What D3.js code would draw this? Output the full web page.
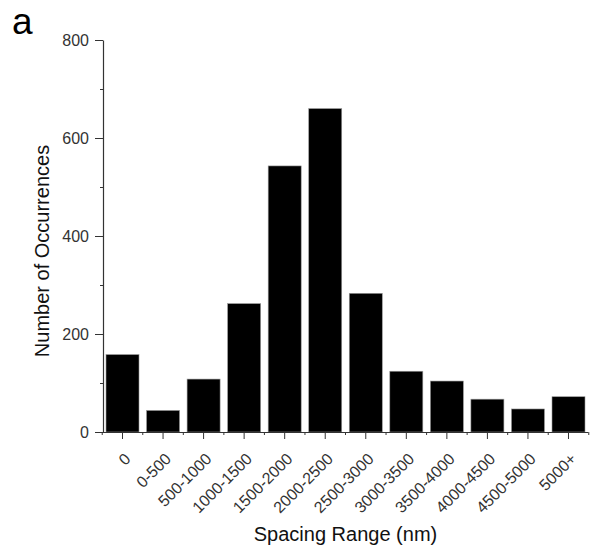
<!DOCTYPE html>
<html>
<head>
<meta charset="utf-8">
<script src="https://cdn.jsdelivr.net/npm/d3@7"></script>
<style>
  html, body { margin: 0; padding: 0; background: #fff; }
  svg { display: block; }
</style>
</head>
<body>
<svg id="chart" width="590" height="550"></svg>
<script>
// Spacing ranges (nm) and how often each occurs
const categories = ["0", "0-500", "500-1000", "1000-1500", "1500-2000", "2000-2500",
  "2500-3000", "3000-3500", "3500-4000", "4000-4500", "4500-5000", "5000+"];
const occurrences = [158, 44, 108, 262, 543, 660, 283, 124, 104, 67, 47, 72];
const majorTicks = [0, 200, 400, 600, 800];
const minorTicks = [100, 300, 500, 700];

const svg = d3.select("#chart");
const plotLeft = 103, plotRight = 588, plotTop = 40, plotBottom = 432;

const x = d3.scaleBand()
  .domain(categories)
  .range([plotLeft, plotRight])
  .paddingInner(0.186)
  .paddingOuter(0.074);

const y = d3.scaleLinear().domain([0, 800]).range([plotBottom, plotTop]);

const tickColor = "#333";
const labelFont = "'Liberation Sans', Arial, sans-serif";

// bars
svg.append("g")
  .selectAll("rect")
  .data(categories.map((c, i) => ({ c, v: occurrences[i] })))
  .join("rect")
  .attr("x", d => x(d.c))
  .attr("y", d => y(d.v))
  .attr("width", x.bandwidth())
  .attr("height", d => y(0) - y(d.v))
  .attr("fill", "#000")
  .attr("stroke", "#999")
  .attr("stroke-width", 0.6);

// y axis: labelled major ticks and short minor ticks
const yAxis = svg.append("g").attr("transform", `translate(${plotLeft},0)`)
  .call(d3.axisLeft(y).tickValues(majorTicks).tickSize(8).tickSizeOuter(0).tickPadding(6));
svg.append("g").attr("transform", `translate(${plotLeft},0)`)
  .call(d3.axisLeft(y).tickValues(minorTicks).tickSize(3).tickFormat(""))
  .call(g => g.select(".domain").remove())
  .call(g => g.selectAll(".tick line").attr("stroke", tickColor));

// x axis: centre ticks under each bar, minor ticks at band edges
const step = x.step();
const edges = categories.map(c => x(c) + x.bandwidth() / 2 - step / 2);
edges.push(x(categories[categories.length - 1]) + x.bandwidth() / 2 + step / 2);

const xAxis = svg.append("g").attr("transform", `translate(0,${plotBottom})`)
  .call(d3.axisBottom(x).tickSize(7).tickSizeOuter(0).tickFormat(""));
xAxis.select(".domain").attr("d", `M${plotLeft},0.5H${plotRight}`);
const minorX = svg.append("g").attr("transform", `translate(0,${plotBottom})`);
minorX.selectAll("line").data(edges).join("line")
  .attr("x1", d => d).attr("x2", d => d)
  .attr("y1", 0).attr("y2", 3)
  .attr("stroke", tickColor);

[yAxis, xAxis].forEach(g => {
  g.selectAll(".domain").attr("stroke", tickColor).attr("stroke-width", 1.2);
  g.selectAll(".tick line").attr("stroke", tickColor);
});
yAxis.selectAll(".tick text")
  .attr("font-family", labelFont).attr("font-size", 16).attr("fill", "#333");

// rotated category labels
svg.append("g").selectAll("text")
  .data(categories)
  .join("text")
  .attr("transform", d => `translate(${x(d) + x.bandwidth() / 2 + 1},${plotBottom + 20}) rotate(-45)`)
  .attr("text-anchor", "end")
  .attr("dy", "0.7em")
  .attr("font-family", labelFont)
  .attr("font-size", 16)
  .attr("fill", "#333")
  .text(d => d);

// axis titles
svg.append("text")
  .attr("x", (plotLeft + plotRight) / 2).attr("y", 541)
  .attr("text-anchor", "middle")
  .attr("font-family", labelFont).attr("font-size", 20)
  .attr("fill", "#111")
  .text("Spacing Range (nm)");

svg.append("text")
  .attr("transform", `translate(49,251) rotate(-90)`)
  .attr("text-anchor", "middle")
  .attr("font-family", labelFont).attr("font-size", 20)
  .attr("fill", "#111")
  .text("Number of Occurrences");

// panel letter
svg.append("text")
  .attr("x", 12).attr("y", 34)
  .attr("font-family", labelFont).attr("font-size", 37)
  .attr("fill", "#000")
  .text("a");
</script>
</body>
</html>
